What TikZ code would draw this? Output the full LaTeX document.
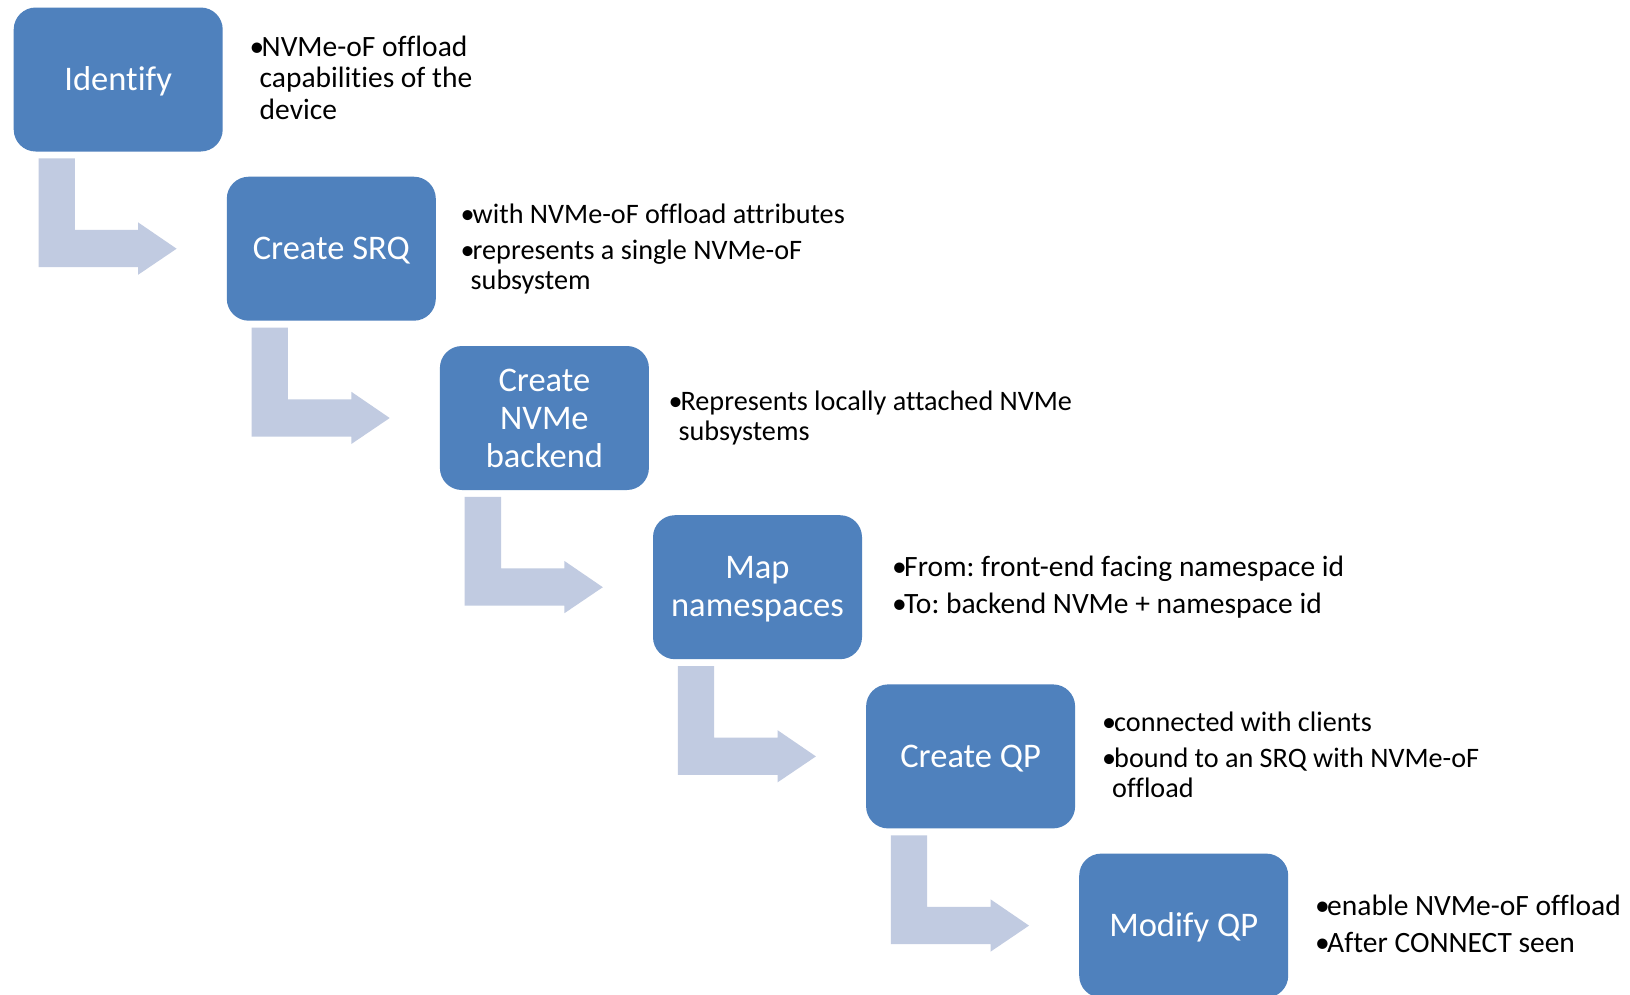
\documentclass[tikz,border=0pt]{standalone}
\usepackage{fontspec}
\setmainfont{Carlito}[Ligatures={NoCommon}]
\usetikzlibrary{calc}
\frenchspacing

\definecolor{stepblue}{HTML}{4F81BD}
\definecolor{flowgray}{HTML}{C1CBE1}

\tikzset{
  x=1pt, y=-1pt,
  stepbox/.style={fill=stepblue, rounded corners=22pt, minimum width=209pt,
    minimum height=144pt, inner sep=0pt, anchor=north west, text=white,
    font=\fontsize{34.5}{38}\selectfont},
  oneline/.style={text height=22.5pt, text depth=0pt},
  notes/.style={anchor=base west, inner sep=0pt, text=black,
    font=\fontsize{28.2}{30.1}\selectfont},
  bignotes/.style={notes, font=\fontsize{29.5}{31.5}\selectfont},
  flow/.style={fill=flowgray},
}

% bullet and hanging indent for the side notes
\newcommand\bul{\makebox[12pt][l]{\textbullet}}
\newcommand\cont{\hspace*{10pt}}
\newcommand\notetext[1]{\parbox[t]{600pt}{\raggedright #1}}

% bent block arrow leaving the bottom of #1 and pointing at #2
\newcommand\bentarrow[2]{%
  \fill[flow] ($(#1.south west)+(25,6.7)$) -- ++(36.3,0)
    |- ($(#2.west)+(-88.4,-18.75)$) -- ++(0,-7.5)
    -- ($(#2.west)+(-50,0)$) -- ++(-38.4,26) -- ++(0,-7.5)
    -| ($(#1.south west)+(25,6.7)$) -- cycle;}

\begin{document}
\begin{tikzpicture}
\useasboundingbox (0,0) rectangle (1630,994);
\fill[white] (0,0) rectangle (1630,994);

% process steps
\node[stepbox, oneline] (identify) at (13.5,7.3) {Identify};
\node[stepbox, oneline] (srq) at (226.6,176.5) {Create SRQ};
\node[stepbox, align=center] (backend) at (439.7,345.8) {Create\\NVMe\\backend};
\node[stepbox, align=center] (mapns) at (652.8,515) {\rule{0pt}{26.5pt}Map\\namespaces};
\node[stepbox, oneline] (createqp) at (865.9,684.2) {Create QP};
\node[stepbox, oneline] (modifyqp) at (1079,853.4) {Modify QP};

% flow arrows
\bentarrow{identify}{srq}
\bentarrow{srq}{backend}
\bentarrow{backend}{mapns}
\bentarrow{mapns}{createqp}
\bentarrow{createqp}{modifyqp}

% side notes
\node[bignotes] (n1) at (249.5,56) {\notetext{\bul NVMe-oF offload\\\cont capabilities of the\\\cont device}};
\node[notes] (n2) at (460.5,223) {\notetext{\bul with NVMe-oF offload attributes\\[6.3pt]\bul represents a single NVMe-oF\\\cont subsystem}};
\node[notes] (n3) at (668.4,410) {\notetext{\bul Represents locally attached NVMe\\\cont subsystems}};
\node[bignotes] (n4) at (892,576) {\notetext{\bul From: front-end facing namespace id\\[5.5pt]\bul To: backend NVMe + namespace id}};
\node[notes] (n5) at (1102,731) {\notetext{\bul connected with clients\\[6.3pt]\bul bound to an SRQ with NVMe-oF\\\cont offload}};
\node[bignotes] (n6) at (1315,915) {\notetext{\bul enable NVMe-oF offload\\[5.5pt]\bul After CONNECT seen}};
\end{tikzpicture}
\end{document}
